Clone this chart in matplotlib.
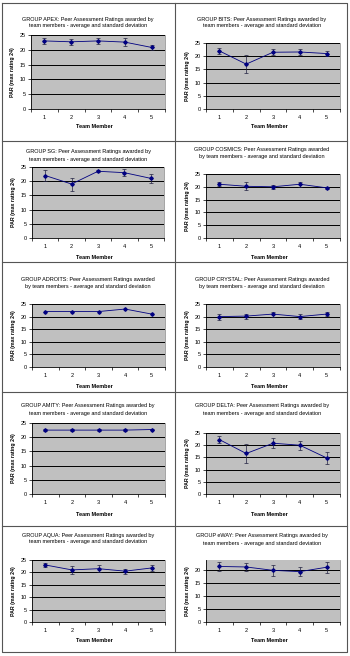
import matplotlib
matplotlib.use('Agg')
import matplotlib.pyplot as plt
from matplotlib.lines import Line2D

plt.rcParams['font.family'] = ['Liberation Sans', 'DejaVu Sans']

# data
members = [1, 2, 3, 4, 5]
groups = ['APEX', 'BITS', 'SG', 'COSMICS', 'ADROITS', 'CRYSTAL', 'AMITY', 'DELTA', 'AQUA', 'eWAY']

apex_mean = [23.0, 22.7, 23.0, 22.6, 20.8]
apex_sd = [1.0, 1.0, 1.0, 1.3, 0.8]
bits_mean = [22.0, 17.0, 21.5, 21.6, 21.0]
bits_sd = [1.2, 3.5, 1.2, 1.2, 0.8]
sg_mean = [22.0, 19.0, 23.5, 23.0, 21.0]
sg_sd = [2.0, 2.3, 0.3, 1.2, 1.5]
cosmics_mean = [21.0, 20.2, 20.0, 21.0, 19.6]
cosmics_sd = [0.8, 1.5, 0.8, 1.0, 0.5]
adroits_mean = [22.0, 22.0, 22.0, 23.0, 21.0]
adroits_sd = [0.0, 0.0, 0.0, 0.0, 0.0]
crystal_mean = [20.0, 20.2, 21.0, 20.0, 21.0]
crystal_sd = [1.2, 1.0, 1.0, 1.0, 0.7]
amity_mean = [22.5, 22.5, 22.5, 22.5, 22.7]
amity_sd = [0.3, 0.3, 0.3, 0.3, 0.3]
delta_mean = [22.3, 16.6, 20.8, 20.0, 14.8]
delta_sd = [1.3, 3.8, 2.0, 1.8, 2.6]
aqua_mean = [23.0, 21.0, 21.5, 20.5, 21.8]
aqua_sd = [0.8, 1.5, 1.4, 1.0, 1.3]
eway_mean = [21.5, 21.3, 20.0, 19.5, 21.2]
eway_sd = [1.6, 1.4, 2.0, 1.8, 2.2]

means = [apex_mean, bits_mean, sg_mean, cosmics_mean, adroits_mean,
         crystal_mean, amity_mean, delta_mean, aqua_mean, eway_mean]
sds = [apex_sd, bits_sd, sg_sd, cosmics_sd, adroits_sd,
       crystal_sd, amity_sd, delta_sd, aqua_sd, eway_sd]
ymax = [25, 25, 25, 25, 25, 25, 25, 25, 25, 24]
yticks_all = [[0, 5, 10, 15, 20, 25]] * 9 + [[0, 5, 10, 15, 20]]
# groups whose first title line ends with "awarded"
split_after_awarded = ['COSMICS', 'ADROITS', 'CRYSTAL']

# layout in pixels: plot x0, x1, y_top, y_bottom, title y1, title y2, xlabel y
W, H = 350, 656
boxes = [
    (31, 165, 35, 109, 19, 26, 127),
    (206, 340, 43, 109, 19, 26, 127),
    (32, 164, 167, 238, 151, 159, 257),
    (206, 340, 174, 238, 149, 157, 257),
    (32, 165, 304, 367, 279, 286, 386),
    (206, 340, 304, 367, 279, 286, 387),
    (32, 165, 423, 494, 405, 413, 514),
    (206, 340, 433, 494, 406, 413, 514),
    (32, 165, 560, 622, 535, 542, 640),
    (206, 340, 560, 622, 535, 543, 640),
]

fig = plt.figure(figsize=(W / 100, H / 100), dpi=100)
fs = 4.0
navy = '#000080'

for i, g in enumerate(groups):
    x0, x1, yt, yb, t1, t2, xl = boxes[i]
    ax = fig.add_axes([x0 / W, 1 - yb / H, (x1 - x0) / W, (yb - yt) / H])
    ax.set_facecolor('#c0c0c0')
    ax.set_xlim(0.5, 5.5)
    ax.set_ylim(0, ymax[i])
    for v in yticks_all[i][1:]:
        ax.axhline(v, color='black', lw=0.7, zorder=1)
    if any(s > 0 for s in sds[i]):
        ax.errorbar(members, means[i], yerr=sds[i], color=navy, lw=0.6,
                    marker='D', ms=1.8, ecolor='#202040', elinewidth=0.5,
                    capsize=1.3, capthick=0.5, zorder=3)
    else:
        ax.plot(members, means[i], color=navy, lw=0.6, marker='D', ms=1.8, zorder=3)

    ax.set_yticks(yticks_all[i])
    ax.set_xticks(members)
    ax.set_xticks([0.5, 1.5, 2.5, 3.5, 4.5, 5.5], minor=True)
    ax.tick_params(axis='x', which='major', length=0, labelsize=fs, pad=4)
    ax.tick_params(axis='x', which='minor', length=2, width=0.5, direction='out')
    ax.tick_params(axis='y', length=2, width=0.5, direction='out', labelsize=fs, pad=1.5)
    for s in ['left', 'bottom']:
        ax.spines[s].set_linewidth(0.6)
        ax.spines[s].set_color('black')
    ax.spines['top'].set_visible(False)
    ax.spines['right'].set_color('#808080')
    ax.spines['right'].set_linewidth(0.5)

    # titles and labels
    cx = 88 if x0 < 100 else 262
    if g in split_after_awarded:
        line1 = 'GROUP %s: Peer Assessment Ratings awarded' % g
        line2 = 'by team members - average and standard deviation'
    else:
        line1 = 'GROUP %s: Peer Assessment Ratings awarded by' % g
        line2 = 'team members - average and standard deviation'
    fig.text(cx / W, 1 - t1 / H, line1, ha='center', va='center', fontsize=fs)
    fig.text(cx / W, 1 - t2 / H, line2, ha='center', va='center', fontsize=fs)
    fig.text((x0 + x1) / 2 / W - 4 / W, 1 - xl / H, 'Team Member', ha='center',
             va='center', fontsize=fs, fontweight='bold')
    fig.text((x0 - 18) / W, 1 - (yt + yb) / 2 / H, 'PAR (max rating 24)', ha='center',
             va='center', rotation=90, fontsize=3.8, fontweight='bold')

# table grid around the charts
gc = '#555555'
def pline(xs, ys):
    fig.add_artist(Line2D([x / W for x in xs], [1 - y / H for y in ys],
                          color=gc, lw=0.8, transform=fig.transFigure))

pline([2, 347, 347, 2, 2], [3, 3, 652, 652, 3])
pline([175, 175], [3, 652])
for y in [141, 262, 392, 526]:
    pline([2, 347], [y, y])

fig.savefig('out.png', dpi=100)
